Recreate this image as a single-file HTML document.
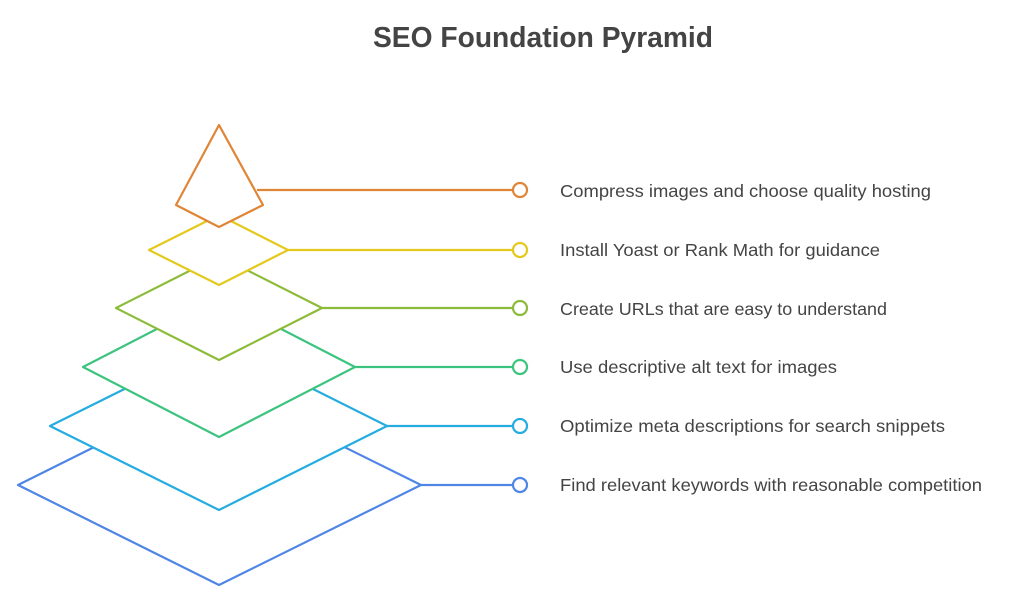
<!DOCTYPE html>
<html><head><meta charset="utf-8"><style>
html,body{margin:0;padding:0;background:#fff;}
svg{display:block;}
text{font-family:"Liberation Sans",Arial,sans-serif;}
</style></head><body>
<svg width="1024" height="599" viewBox="0 0 1024 599" xmlns="http://www.w3.org/2000/svg">
<text x="543" y="47" text-anchor="middle" font-size="29" font-weight="bold" fill="#444" textLength="340" lengthAdjust="spacingAndGlyphs">SEO Foundation Pyramid</text>
<g stroke-width="2.2" fill="#fff" stroke-linejoin="round">
<line x1="421" y1="485" x2="513" y2="485" stroke="#4f86e6"/>
<polygon points="219,385 421,485 219,585 18,485" stroke="#4f86e6"/>
<line x1="387" y1="426" x2="513" y2="426" stroke="#25ace0"/>
<polygon points="219,342 387,426 219,510 50,426" stroke="#25ace0"/>
<line x1="355" y1="367" x2="513" y2="367" stroke="#3cc47f"/>
<polygon points="219,297 355,367 219,437 83,367" stroke="#3cc47f"/>
<line x1="322" y1="308" x2="513" y2="308" stroke="#8dbb39"/>
<polygon points="219,256 322,308 219,360 116,308" stroke="#8dbb39"/>
<line x1="288" y1="250" x2="513" y2="250" stroke="#e3c91c"/>
<polygon points="219,215 288,250 219,285 149,250" stroke="#e3c91c"/>
<line x1="257" y1="190" x2="513" y2="190" stroke="#e08536"/>
<polygon points="219,125 263,205 219,227 176,205" stroke="#e08536"/>
<circle cx="520" cy="190" r="7" stroke="#e08536"/>
<circle cx="520" cy="250" r="7" stroke="#e3c91c"/>
<circle cx="520" cy="308" r="7" stroke="#8dbb39"/>
<circle cx="520" cy="367" r="7" stroke="#3cc47f"/>
<circle cx="520" cy="426" r="7" stroke="#25ace0"/>
<circle cx="520" cy="485" r="7" stroke="#4f86e6"/>
</g>
<g font-size="17.5" fill="#444" lengthAdjust="spacingAndGlyphs">
<text x="560" y="197" textLength="371" lengthAdjust="spacingAndGlyphs">Compress images and choose quality hosting</text>
<text x="560" y="256" textLength="320" lengthAdjust="spacingAndGlyphs">Install Yoast or Rank Math for guidance</text>
<text x="560" y="315" textLength="327" lengthAdjust="spacingAndGlyphs">Create URLs that are easy to understand</text>
<text x="560" y="373" textLength="277" lengthAdjust="spacingAndGlyphs">Use descriptive alt text for images</text>
<text x="560" y="432" textLength="385" lengthAdjust="spacingAndGlyphs">Optimize meta descriptions for search snippets</text>
<text x="560" y="491" textLength="422" lengthAdjust="spacingAndGlyphs">Find relevant keywords with reasonable competition</text>
</g>
</svg>
</body></html>
